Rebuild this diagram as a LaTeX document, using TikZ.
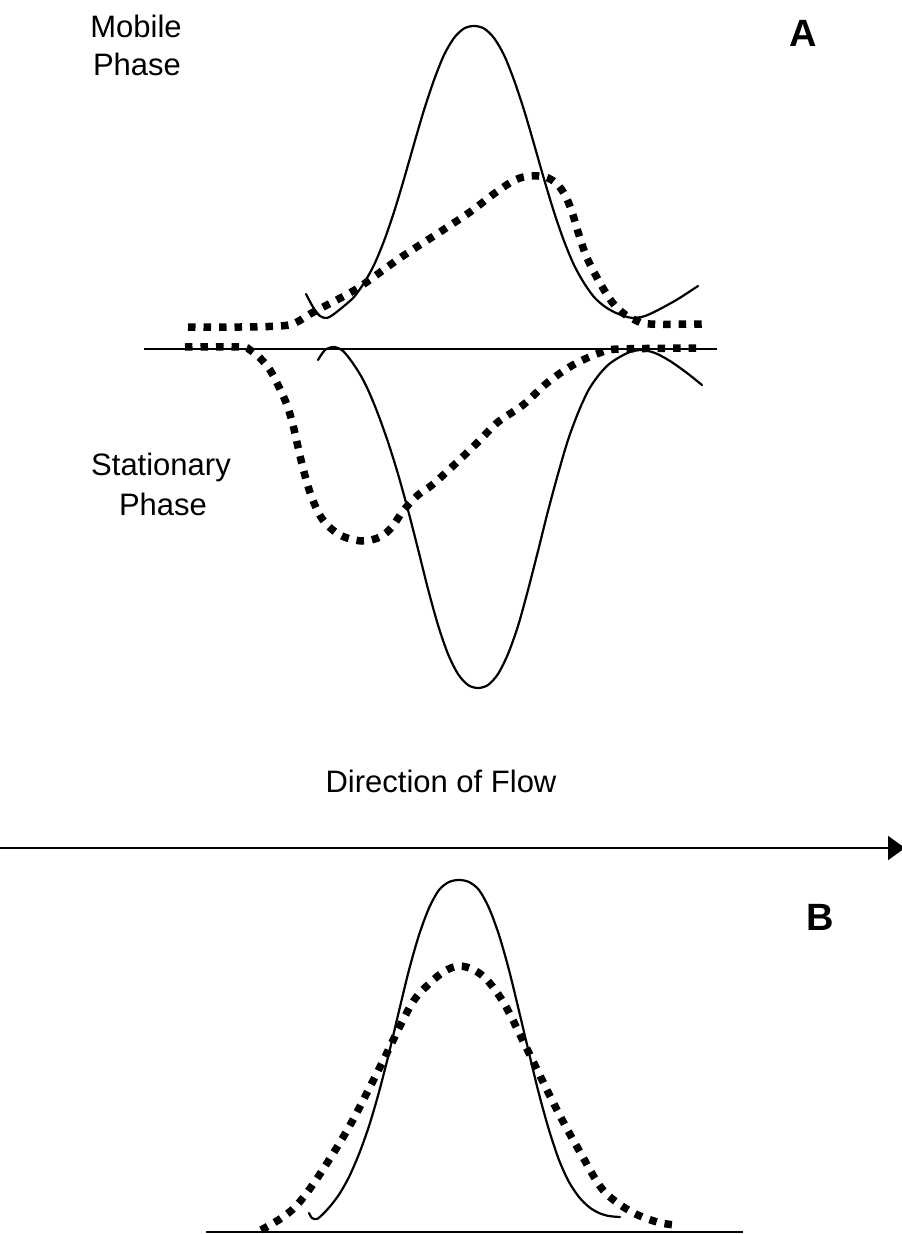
\documentclass[tikz,border=0pt]{standalone}
\usepackage{fontspec}
\setmainfont{Liberation Sans}
\usetikzlibrary{arrows.meta}
\tikzset{
  lbl/.style={inner sep=0pt, anchor=base, font=\fontsize{31}{38}\selectfont},
  panel/.style={inner sep=0pt, anchor=base, font=\fontsize{38}{44}\selectfont\bfseries},
  solidcurve/.style={line width=2.2pt, line join=round, line cap=round},
  dotcurve/.style={line width=7.5pt, dash pattern=on 7.5pt off 8pt, line cap=butt},
  axisline/.style={line width=1.8pt}
}
\begin{document}
\begin{tikzpicture}[x=1pt, y=-1pt]
\clip (0,0) rectangle (902,1234);
\fill[white] (0,0) rectangle (902,1234);

% labels
\node[lbl] (mob1) at (136,37) {Mobile};
\node[lbl] (mob2) at (137,75) {Phase};
\node[lbl] (sta1) at (161,475) {Stationary};
\node[lbl] (sta2) at (163,515) {Phase};
\node[lbl] (flow) at (441,792) {Direction of Flow};
\node[panel] (pA) at (803,46) {A};
\node[panel] (pB) at (820,930) {B};

% panel A baseline
\coordinate (aL) at (144,349);
\coordinate (aR) at (717,349);
\draw[axisline] (aL) -- (aR);

% upper solid (mobile phase)
\draw[solidcurve] plot[smooth, tension=0.5] coordinates {
 (306,294) (313,307) (320,316) (327,318) (334,314) (344,306) (354,297)
 (364,283) (374,265) (384,241) (394,212) (404,179) (414,144) (424,110)
 (434,80) (444,55) (454,38) (464,28.5) (474,26) (484,28.5) (494,38)
 (504,55) (514,80) (524,110) (534,144) (544,179) (554,212) (564,241)
 (574,265) (584,283) (594,297) (604,306) (614,312) (624,316) (633,318)
 (645,316) (660,309) (678,299) (698,286)};

% upper dotted
\draw[dotcurve] plot[smooth, tension=0.55] coordinates {
 (188,327) (240,327) (280,326) (295,323) (310,314) (327,305) (358,288)
 (400,258) (440,232) (470,212) (495,193) (515,180) (530,176) (545,177)
 (556,183) (565,195) (572,212) (579,235) (587,258) (600,283) (612,302)
 (623,313) (635,320) (650,324) (706,324)};

% lower solid (stationary phase)
\draw[solidcurve] plot[smooth, tension=0.5] coordinates {
 (318,360) (325,350) (334,347) (343,351) (352,362) (361,376) (369,392)
 (378,414) (388,442) (398,474) (408,510) (418,549) (428,589) (438,625)
 (448,654) (458,674) (468,685) (478,688) (488,685) (498,674) (508,654)
 (518,626) (528,590) (538,551) (548,511) (558,474) (568,440) (578,413)
 (588,391) (598,376) (608,365) (618,358) (630,352) (642,350) (655,353)
 (670,361) (687,373) (702,385)};

% lower dotted
\draw[dotcurve] plot[smooth, tension=0.55] coordinates {
 (185,347) (240,347) (250,350) (260,358) (270,370) (279,387) (287,405)
 (293,425) (298,447) (304,472) (312,498) (323,520) (340,535) (362,541)
 (380,537) (392,527) (403,511) (418,495) (432,485) (453,466) (477,443)
 (498,422) (523,405) (547,383) (573,365) (602,352) (620,349) (700,348)};

% direction of flow arrow
\coordinate (flowL) at (0,848);
\coordinate (flowR) at (905,848);
\draw[line width=2pt, -{Triangle[length=17pt, width=24pt]}] (flowL) -- (flowR);

% panel B baseline
\coordinate (bL) at (206,1232);
\coordinate (bR) at (743,1232);
\draw[axisline] (bL) -- (bR);

% panel B solid
\draw[solidcurve] plot[smooth, tension=0.5] coordinates {
 (309,1213) (312,1218) (317,1219) (324,1213) (332,1204) (340,1193)
 (349,1177) (359,1154) (369,1126) (379,1092) (389,1053) (399,1011)
 (409,970) (419,935) (429,908) (439,890) (449,882) (459,880)
 (469,882) (479,890) (489,908) (499,935) (509,970) (519,1011)
 (529,1053) (539,1094) (549,1130) (559,1160) (569,1182) (579,1197)
 (589,1207) (599,1213) (609,1216) (620,1217)};

% panel B dotted
\draw[dotcurve] plot[smooth, tension=0.55] coordinates {
 (261,1230) (280,1219) (297,1205) (318,1177) (349,1127) (380,1067)
 (411,1005) (430,983) (445,971) (459,966) (474,970) (488,981)
 (505,1005) (526,1047) (557,1110) (580,1152) (603,1190) (630,1211)
 (657,1222) (676,1225)};
\end{tikzpicture}
\end{document}
